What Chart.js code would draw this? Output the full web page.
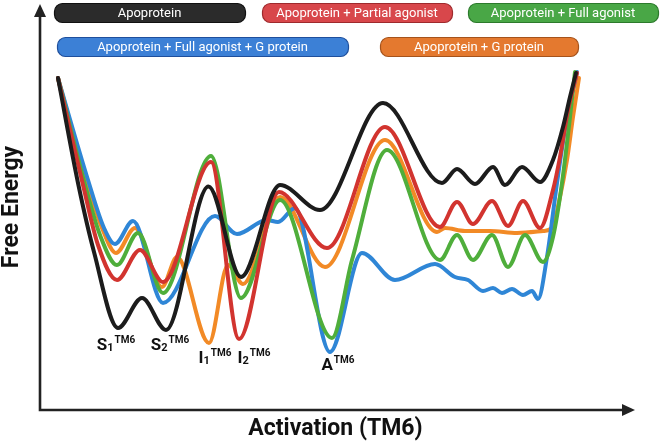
<!DOCTYPE html>
<html><head><meta charset="utf-8">
<script src="https://cdn.jsdelivr.net/npm/chart.js@4"></script>
<style>html,body{margin:0;padding:0;background:#fff}#wrap{width:661px;height:443px;position:relative}</style>
</head><body><div id="wrap"><canvas id="c" width="661" height="443"></canvas></div>
<script>
// ---- data (activation coordinate along TM6, free energy in arbitrary units) ----
const seriesNames = ['Apoprotein','Apoprotein + Partial agonist','Apoprotein + Full agonist','Apoprotein + Full agonist + G protein','Apoprotein + G protein'];

const apoX = [18,38,54,78,102,126,168.5,201,240,280,343,402,417,435,453,465,482,500,513,523,530,536];
const apoE = [332,227,158,82,112,80,223.5,133,225,200,307,227,241,226,243,225,243,228,250,283,313,337];

const partialX = [18,43,58,77,100,123,171,199,239,287,345,400,417,433,452,468,483,500,513,520,528,537];
const partialE = [332,225,165,130,160,128,248,71,218,162,283,183,208,186,209,184,209,182,220,253,300,337];

const fullX = [18,45,60,77,98,123,171,201,240,292,312,347,400,417,433,452,468,485,503,513,522,530,535];
const fullE = [332,225,175,145,177,117,254,112,210,72,150,260,150,175,150,175,143,175,148,173,227,293,338];

const fullGX = [18,48,64,75,93,123,175,197,227,238,255,290,322,355,395,415,428,443,453,462,472,483,492,498,507,517,527,537];
const fullGE = [332,230,182,166,189,107,194,176,190,188,202,58,157,130,146,133,130,119,122,117,121,115,119,111,153,227,293,338];

const gX = [18,46,62,76,95,122,137,169,188,203,240,285,345,397,405,425,450,477,503,512,520,527,533,539];
const gE = [332,230,182,157,182,123,153,67,145,126,213,143,270,178,182,179,179,177,179,182,213,250,293,332];

// state labels (main letter, subscript, superscript) and the basin they mark
const stateMain = ['S','S','I','I','A'];
const stateSub  = ['1','2','1','2',''];
const stateSup  = ['TM6','TM6','TM6','TM6','TM6'];
const stateX    = [76,130,175,214,298];
const stateE    = [60,60,47,47,40];

const xTitle = 'Activation (TM6)';
const yTitle = 'Free Energy';

// ---- styles ----
const lineColors = ['#1c1c1c','#d2342f','#4fae3b','#2f86d6','#f28a26'];
const pillFill   = ['#2b2b2b','#d8474b','#49a746','#3c80d6','#e4792f'];
const pillEdge   = ['#111111','#9e2a2d','#2c7a2c','#1f4f9c','#a5531c'];
const pillBox    = [[54,3,191,19],[262,3,190,19],[468,3,190,19],[57,37,291,19],[380,37,198,19]];

function pts(xs, es){ return xs.map((x,i)=>({x:x, y:es[i]})); }
const allX = [apoX, partialX, fullX, fullGX, gX];
const allE = [apoE, partialE, fullE, fullGE, gE];

const datasets = seriesNames.map((n,i)=>({
  label:n, data:pts(allX[i], allE[i]),
  borderColor:lineColors[i], backgroundColor:lineColors[i],
  borderWidth:4, pointRadius:0, fill:false,
  cubicInterpolationMode:'monotone', borderCapStyle:'round', borderJoinStyle:'round'
}));

const deco = {
  id:'deco',
  afterDraw(chart){
    const ctx = chart.ctx, a = chart.chartArea;
    const xs = chart.scales.x, ys = chart.scales.y;
    ctx.save();
    // axes with arrows
    ctx.strokeStyle = '#222'; ctx.fillStyle = '#222'; ctx.lineWidth = 2.6;
    ctx.beginPath();
    ctx.moveTo(a.left, a.top + 10); ctx.lineTo(a.left, a.bottom); ctx.lineTo(a.right - 10, a.bottom);
    ctx.stroke();
    ctx.beginPath();
    ctx.moveTo(a.left, a.top); ctx.lineTo(a.left - 6, a.top + 13); ctx.lineTo(a.left + 6, a.top + 13); ctx.closePath(); ctx.fill();
    ctx.beginPath();
    ctx.moveTo(a.right, a.bottom); ctx.lineTo(a.right - 13, a.bottom - 6); ctx.lineTo(a.right - 13, a.bottom + 6); ctx.closePath(); ctx.fill();

    // axis titles
    ctx.fillStyle = '#111';
    ctx.font = 'bold 23px Roboto';
    ctx.textAlign = 'center'; ctx.textBaseline = 'alphabetic';
    ctx.fillText(xTitle, (a.left + a.right)/2 - 2, 435);
    ctx.save();
    ctx.translate(18, 207); ctx.rotate(-Math.PI/2);
    ctx.fillText(yTitle, 0, 0);
    ctx.restore();

    // state labels
    ctx.textAlign = 'left';
    for (let i=0;i<stateMain.length;i++){
      const fm = 'bold 17px Roboto', fs = 'bold 11px Roboto', fp = 'bold 10px Roboto';
      ctx.font = fm; const wm = ctx.measureText(stateMain[i]).width;
      ctx.font = fs; const ws = stateSub[i] ? ctx.measureText(stateSub[i]).width : 0;
      ctx.font = fp; const wp = ctx.measureText(stateSup[i]).width;
      const cx = xs.getPixelForValue(stateX[i]), by = ys.getPixelForValue(stateE[i]);
      let x = cx - (wm + ws + wp + 1)/2;
      ctx.font = fm; ctx.fillText(stateMain[i], x, by); x += wm;
      if (stateSub[i]) { ctx.font = fs; ctx.fillText(stateSub[i], x, by + 1); x += ws; }
      ctx.font = fp; ctx.fillText(stateSup[i], x + 1, by - 7);
    }

    // legend pills
    ctx.font = '13px Roboto'; ctx.textAlign = 'center'; ctx.textBaseline = 'middle';
    chart.data.datasets.forEach((d,i)=>{
      const [px,py,pw,ph] = pillBox[i];
      ctx.beginPath(); ctx.roundRect(px+0.5, py+0.5, pw, ph, 8);
      ctx.fillStyle = pillFill[i]; ctx.fill();
      ctx.lineWidth = 1.2; ctx.strokeStyle = pillEdge[i]; ctx.stroke();
      ctx.fillStyle = '#fff';
      ctx.fillText(d.label, px + pw/2, py + ph/2 + 1);
    });
    ctx.restore();
  }
};

new Chart(document.getElementById('c'), {
  type:'line',
  data:{ datasets },
  options:{
    responsive:false, animation:false, devicePixelRatio:1,
    layout:{ padding:{ left:40, right:26, top:4, bottom:33 } },
    scales:{
      x:{ type:'linear', min:0, max:595, display:false },
      y:{ type:'linear', min:0, max:406, display:false }
    },
    plugins:{ legend:{display:false}, tooltip:{enabled:false} }
  },
  plugins:[deco]
});
</script></body></html>
